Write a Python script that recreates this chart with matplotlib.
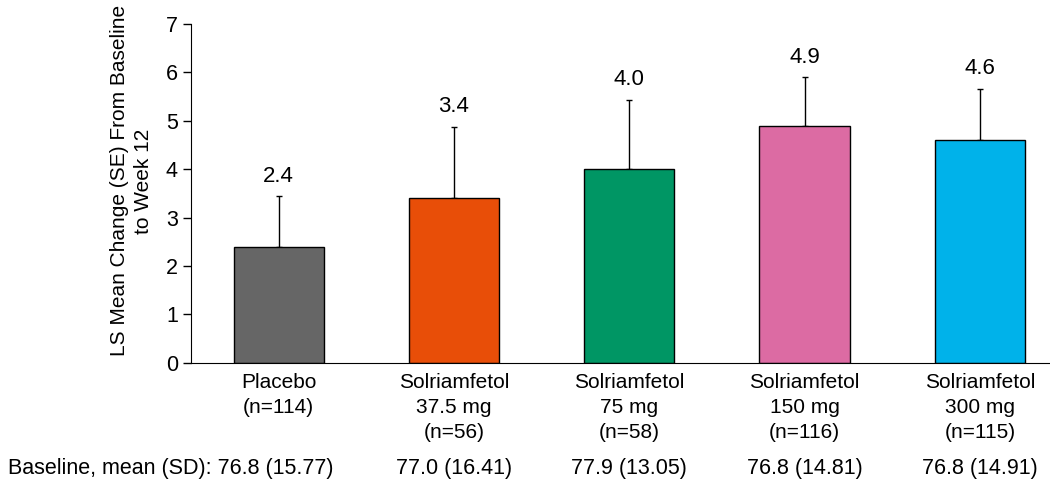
import numpy as np
import matplotlib.pyplot as plt
import matplotlib.transforms as mtransforms

groups = ["Placebo\n(n=114)", "Solriamfetol\n37.5 mg\n(n=56)", "Solriamfetol\n75 mg\n(n=58)",
          "Solriamfetol\n150 mg\n(n=116)", "Solriamfetol\n300 mg\n(n=115)"]
ls_mean = [2.4, 3.4, 4.0, 4.9, 4.6]
se = [1.04, 1.47, 1.43, 1.0, 1.06]
baseline = ["76.8 (15.77)", "77.0 (16.41)", "77.9 (13.05)", "76.8 (14.81)", "76.8 (14.91)"]
colors = ["#666666", "#E84E08", "#009664", "#DC6BA3", "#00B2EA"]

plt.rcParams["font.family"] = ["Liberation Sans", "DejaVu Sans"]

fig = plt.figure(figsize=(10.5, 4.8), dpi=100)
ax = fig.add_axes([0.182, 0.244, 0.818, 0.706])

x = np.arange(len(ls_mean))
ax.bar(x, ls_mean, width=0.515, color=colors, edgecolor="black", linewidth=1.0, zorder=2)
ax.errorbar(x, ls_mean, yerr=[np.zeros(len(se)), se], fmt="none", ecolor="black",
            elinewidth=1.0, capsize=2.5, capthick=1.0, zorder=1)

for xi, m, s in zip(x, ls_mean, se):
    ax.annotate(f"{m:.1f}", (xi, m + s), xytext=(0, 7), textcoords="offset points",
                ha="center", va="bottom", fontsize=16)

ax.set_xlim(-0.5, 4.4)
ax.set_ylim(0, 7)
ax.set_yticks(range(0, 8))
ax.tick_params(axis="y", labelsize=15.5, length=6, width=1, direction="out")
ax.set_xticks([])
ax.spines["top"].set_visible(False)
ax.spines["right"].set_visible(False)
ax.set_ylabel("LS Mean Change (SE) From Baseline\nto Week 12", fontsize=15, linespacing=1.35)
ax.yaxis.set_label_coords(-0.044, 0.537)

# group labels under the bars and the baseline row along the bottom
xfig = mtransforms.blended_transform_factory(ax.transData, fig.transFigure)
for i, (xi, g) in enumerate(zip(x, groups)):
    ax.text(xi, 0.222, g, transform=xfig, ha="center", va="top", fontsize=15,
            linespacing=1.4, clip_on=False)
    if i > 0:
        ax.text(xi, 0.023, baseline[i], transform=xfig, ha="center", va="center",
                fontsize=15.5, clip_on=False)
fig.text(8 / 1050, 0.023, "Baseline, mean (SD): " + baseline[0], fontsize=15.5,
         ha="left", va="center")

fig.savefig("out.png", dpi=100)
